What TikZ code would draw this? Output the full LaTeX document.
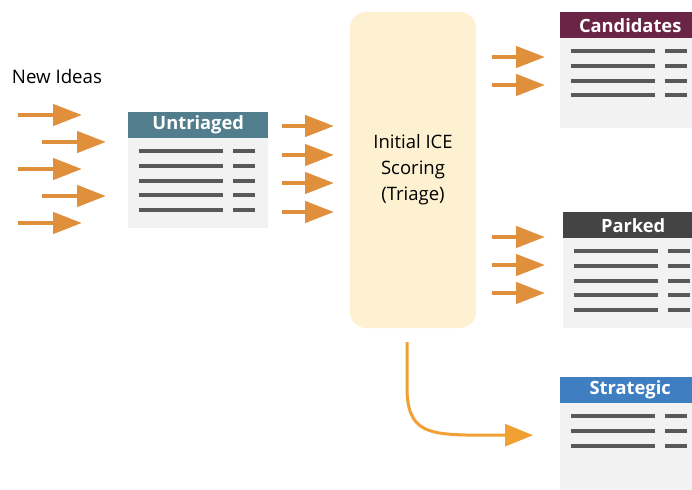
\documentclass[tikz,border=0pt]{standalone}
\usepackage{fontspec}
\setmainfont{Open Sans}
\usetikzlibrary{positioning,arrows.meta}

\definecolor{flowor}{HTML}{E08F3C}
\definecolor{curveor}{HTML}{F1A033}
\definecolor{boxgrey}{HTML}{F2F2F2}
\definecolor{bargrey}{HTML}{595959}
\definecolor{triagefill}{HTML}{FDF1D2}
\definecolor{untricol}{HTML}{527D8C}
\definecolor{candcol}{HTML}{6A2446}
\definecolor{parkcol}{HTML}{444444}
\definecolor{stratcol}{HTML}{3F7EC1}

% rows of bars inside a list box
\newcommand\listrows[2]{%
  \foreach \r in {1,...,#2}{%
    \draw[bar] ([shift={(11,{39+14.8*(\r-1)})}]#1.north west) -- ++(84,0);
    \draw[bar] ([shift={(105,{39+14.8*(\r-1)})}]#1.north west) -- ++(22,0);
  }}

\begin{document}
\begin{tikzpicture}[x=1pt,y=-1pt,
    flow/.style={-{Triangle[length=29pt,width=21pt]}, line width=4.5pt, flowor},
    listbox/.style={fill=boxgrey, minimum width=140pt, minimum height=116pt,
      inner sep=0pt, anchor=north west},
    listhead/.style={fill=#1, text=white, minimum width=140pt, minimum height=26pt,
      inner sep=0pt, anchor=north, font=\fontsize{18.3}{20}\selectfont\bfseries},
    bar/.style={line width=4pt, bargrey},
    triage/.style={fill=triagefill, rounded corners=16pt, minimum width=126pt,
      minimum height=316pt, align=center, font=\fontsize{18.5}{26}\selectfont}]
    \clip (0,0) rectangle (692,489);

    \node[font=\fontsize{18.7}{20}\selectfont] (ideas) at (57,76) {New Ideas};

    % lists
    \node[listbox] (untri) at (128,112) {};
    \node[listhead=untricol] (untri-h) at (untri.north) {Untriaged};
    \listrows{untri}{5}

    \node[listbox] (cand) at (560,12) {};
    \node[listhead=candcol] (cand-h) at (cand.north) {Candidates};
    \listrows{cand}{4}

    \node[listbox] (park) at (563,212) {};
    \node[listhead=parkcol] (park-h) at (park.north) {Parked};
    \listrows{park}{5}

    \node[listbox] (strat) at (560,377) {};
    \node[listhead=stratcol] (strat-h) at (strat.north) {Strategic};
    \listrows{strat}{3}

    \node[triage] (tri) at (413,170) {Initial ICE\\Scoring\\(Triage)};

    % incoming ideas
    \foreach \x/\y [count=\i] in {18/115,42/142,18/169,42/196,18/223}
      \draw[flow] (\x,\y) coordinate (in\i) -- ++(64,0);
    % into triage
    \foreach \y [count=\i] in {126,155,183,212}
      \draw[flow] (282,\y) coordinate (mid\i) -- ++(52,0);
    % out of triage
    \foreach \y [count=\i] in {57,85}
      \draw[flow] (492,\y) coordinate (oc\i) -- ++(53,0);
    \foreach \y [count=\i] in {237,265,293}
      \draw[flow] (492,\y) coordinate (op\i) -- ++(53,0);

    \coordinate (tri-out) at ([shift={(-6,14)}]tri.south);
    \coordinate (strat-in) at ([xshift=-27pt]strat.west);
    \draw[curveor, line width=3pt, -{Triangle[length=28pt,width=22pt]}]
      (tri-out) -- ++(0,45) .. controls ++(0,45) and ++(-45,-1) .. ([xshift=-60pt]strat-in)
      -- (strat-in);
\end{tikzpicture}
\end{document}
